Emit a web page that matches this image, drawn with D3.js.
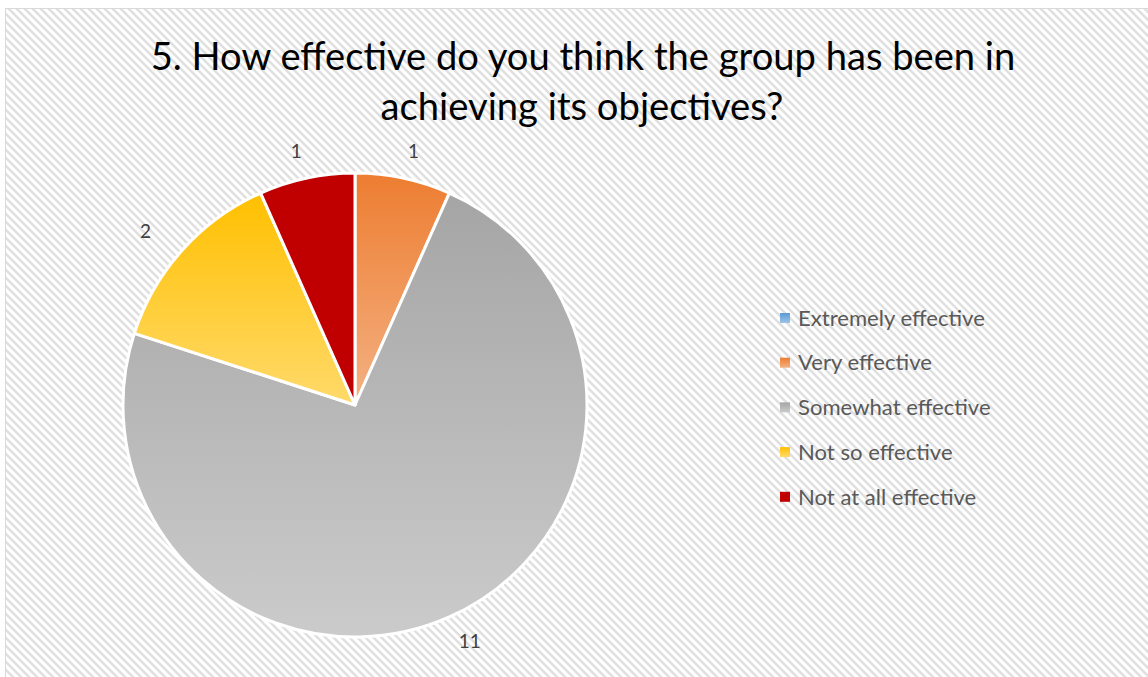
<!DOCTYPE html>
<html><head><meta charset="utf-8">
<script src="https://cdn.jsdelivr.net/npm/d3@7/dist/d3.min.js"></script>
<style>html,body{margin:0;padding:0;background:#fff;}svg{display:block;}</style>
</head><body>
<svg id="chart" width="1148" height="677"></svg>
<script>
const titleLines = ["5. How effective do you think the group has been in", "achieving its objectives?"];
const categories = ["Extremely effective", "Very effective", "Somewhat effective", "Not so effective", "Not at all effective"];
const values = [0, 1, 11, 2, 1];
const colorsTop = ["#5B9BD5", "#ED7D31", "#A5A5A5", "#FFC000", "#C00000"];
const colorsBottom = ["#9DC3E6", "#F4B183", "#CBCBCB", "#FFDA6B", "#C00000"];

const W = 1148, H = 677;
const svg = d3.select("#chart");
const defs = svg.append("defs");

const pat = defs.append("pattern").attr("id", "hatch").attr("patternUnits", "userSpaceOnUse")
  .attr("width", 8).attr("height", 8);
pat.append("rect").attr("width", 8).attr("height", 8).attr("fill", "#ffffff");
pat.append("path").attr("d", "M-2,-2 L10,10 M-2,6 L2,10 M6,-2 L10,2")
  .attr("stroke", "#e0e0e0").attr("stroke-width", 2.5);

categories.forEach((c, i) => {
  const g = defs.append("linearGradient").attr("id", "grad" + i)
    .attr("x1", 0).attr("y1", 0).attr("x2", 0).attr("y2", 1);
  g.append("stop").attr("offset", "0%").attr("stop-color", colorsTop[i]);
  g.append("stop").attr("offset", "100%").attr("stop-color", colorsBottom[i]);
});

// frame
svg.append("rect").attr("x", 5.5).attr("y", 8.5).attr("width", W + 10).attr("height", H + 10)
  .attr("fill", "url(#hatch)").attr("stroke", "#d9d9d9").attr("stroke-width", 1);

const font = "Lato, 'Open Sans', sans-serif";

function fitText(sel, target) {
  const w = sel.node().getComputedTextLength();
  const fs = parseFloat(sel.attr("font-size"));
  sel.attr("font-size", fs * target / w);
}
const t1 = svg.append("text").attr("x", 583).attr("y", 70).attr("text-anchor", "middle")
  .attr("font-family", font).attr("font-size", 36).attr("fill", "#000").text(titleLines[0]);
fitText(t1, 865);
const t2 = svg.append("text").attr("x", 582).attr("y", 120).attr("text-anchor", "middle")
  .attr("font-family", font).attr("font-size", 36).attr("fill", "#000").text(titleLines[1]);
fitText(t2, 403);

// pie
const cx = 355, cy = 405, r = 232;
const data = categories.map((c, i) => ({ c, v: values[i], i }));
const pie = d3.pie().value(d => d.v).sort(null);
const arcs = pie(data);
const arc = d3.arc().innerRadius(0).outerRadius(r);
const g = svg.append("g").attr("transform", `translate(${cx},${cy})`);
g.selectAll("path.slice").data(arcs.filter(a => a.data.v > 0)).join("path")
  .attr("class", "slice")
  .attr("d", arc)
  .attr("fill", d => `url(#grad${d.data.i})`)
  .attr("stroke", "#fff").attr("stroke-width", 3).attr("stroke-linejoin", "round");

const lrx = r + 50, lry = r + 27;
g.selectAll("text.lbl").data(arcs.filter(a => a.data.v > 0)).join("text")
  .attr("class", "lbl")
  .attr("transform", d => {
    const a = (d.startAngle + d.endAngle) / 2;
    return `translate(${Math.sin(a) * lrx},${-Math.cos(a) * lry})`;
  })
  .attr("text-anchor", "middle").attr("dy", "0.35em")
  .attr("font-family", font).attr("font-size", 19).attr("fill", "#404040")
  .text(d => d.data.v);

// legend
const leg = svg.append("g").attr("transform", "translate(780,318)");
const rows = leg.selectAll("g").data(data).join("g")
  .attr("transform", (d, i) => `translate(0,${i * 44.7})`);
rows.append("rect").attr("x", 0).attr("y", -5).attr("width", 10).attr("height", 10)
  .attr("fill", d => `url(#grad${d.i})`);
const lt = rows.append("text").attr("x", 18).attr("y", 0).attr("dy", "0.35em")
  .attr("font-family", font).attr("font-size", 20).attr("fill", "#595959").text(d => d.c);
const w0 = lt.nodes()[0].getComputedTextLength();
lt.attr("font-size", 20 * 187 / w0);
</script>
</body></html>
